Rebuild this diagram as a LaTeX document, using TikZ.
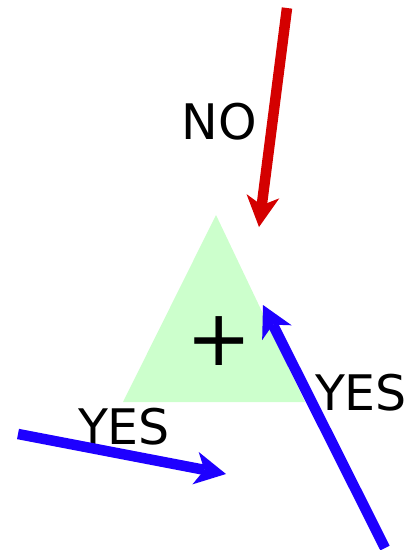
\documentclass[tikz,border=0pt]{standalone}
\usepackage{fontspec}
\setmainfont{DejaVu Sans}
\usetikzlibrary{arrows.meta}
\definecolor{tgreen}{HTML}{CCFFCC}
\definecolor{ared}{HTML}{D40000}
\definecolor{ablue}{HTML}{1E00FF}
\tikzset{
  lbl/.style={inner sep=0pt, font=\fontsize{49}{55}\selectfont},
  arr/.style={line width=10.5pt, -{Stealth[length=31pt, width=33pt, inset=9pt, line width=0pt]}},
}
\begin{document}
\begin{tikzpicture}[x=1pt,y=-1pt]
\useasboundingbox (0,0) rectangle (408,550);
\fill[tgreen] (216,215) -- (305,402) -- (123,402) -- cycle;
\node[inner sep=0pt, font=\fontsize{78}{80}\selectfont] (plus) at (219,341) {\raisebox{-0.05em}{+}};
\node[lbl] (no) at (219,122) {NO};
\node[lbl] (yesl) at (124,426.5) {YES};
\node[lbl] (yesr) at (361,392.5) {YES};
\coordinate (r0) at (287,8);
\coordinate (r1) at (259,227);
\coordinate (b0) at (385,548);
\coordinate (b1) at (263,305);
\coordinate (c0) at (18,434);
\coordinate (c1) at (226,474);
\draw[arr, ared] (r0) -- (r1);
\draw[arr, ablue] (b0) -- (b1);
\draw[arr, ablue] (c0) -- (c1);
\end{tikzpicture}
\end{document}
